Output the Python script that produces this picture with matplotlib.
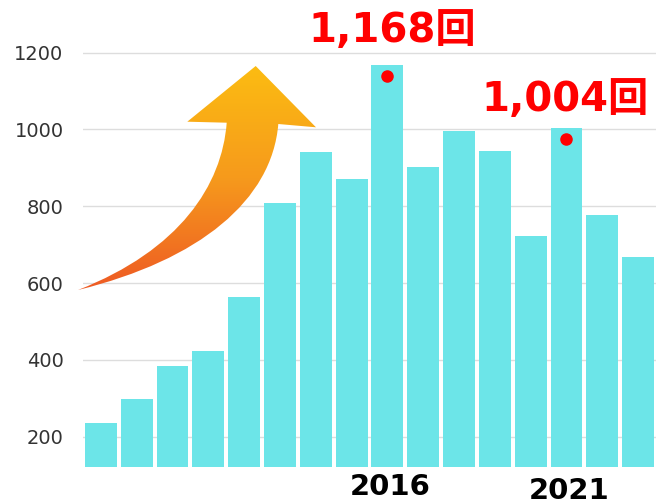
import matplotlib.pyplot as plt
import numpy as np
from matplotlib.path import Path
from matplotlib.patches import PathPatch
from matplotlib.colors import LinearSegmentedColormap

years = list(range(2008, 2024))
counts = [236, 299, 384, 423, 565, 808, 940, 872, 1168, 901, 997, 945, 722, 1004, 777, 668]
shown_years = [2016, 2021]
callouts = {2016: "1,168回", 2021: "1,004回"}

fig = plt.figure(figsize=(6.56, 5.04), dpi=100)
ax = fig.add_axes([83 / 656, 37 / 504, 1 - 83 / 656, 452.8 / 504])

x = np.arange(len(years))
ax.bar(x, counts, width=0.89, color="#6ce5e8", zorder=2)
ax.set_xlim(-0.5, len(years) - 0.5)
ax.set_ylim(121.3, 1300)
ax.set_yticks([200, 400, 600, 800, 1000, 1200])
ax.tick_params(axis="y", length=0, pad=14, labelsize=14, labelcolor="#333333")
ax.set_xticks([])
ax.grid(axis="y", color="#dddddd", linewidth=1, zorder=0)
for s in ax.spines.values():
    s.set_visible(False)

# year labels under the bars (offsets in pixels)
for yr, dy in zip(shown_years, [-20, -24]):
    i = years.index(yr)
    ax.annotate(str(yr), (x[i], 121.3), xytext=(3, dy), textcoords="offset pixels",
                ha="center", va="center", fontsize=21, fontweight="bold", color="black",
                annotation_clip=False)

# red callouts with dots
for (yr, label), (dx, dy) in zip(callouts.items(), [(5, 34), (-1, 28)]):
    i = years.index(yr)
    ax.plot(x[i], counts[i] - 28, "o", color="#ff0000", markersize=8, zorder=3)
    ax.annotate(label, (x[i], counts[i]), xytext=(dx, dy), textcoords="offset pixels",
                ha="center", va="center", fontsize=29, fontweight="bold", color="#ff0000",
                family=["DejaVu Sans", "Noto Sans CJK JP"], annotation_clip=False)

# decorative curved gradient arrow (figure pixel space)
ov = fig.add_axes([0, 0, 1, 1], zorder=5)
ov.set_xlim(0, 656)
ov.set_ylim(504, 0)
ov.axis("off")
ov.patch.set_alpha(0)
verts = [
    (78, 290),
    (200, 260), (272, 200), (278.3, 124),
    (316, 127.3),
    (255.7, 66),
    (187.3, 121.7),
    (226.7, 122.7),
    (222, 185), (180, 250), (78, 290),
    (78, 290),
]
codes = [Path.MOVETO,
         Path.CURVE4, Path.CURVE4, Path.CURVE4,
         Path.LINETO, Path.LINETO, Path.LINETO, Path.LINETO,
         Path.CURVE4, Path.CURVE4, Path.CURVE4,
         Path.CLOSEPOLY]
arrow = PathPatch(Path(verts, codes), facecolor="none", edgecolor="none")
ov.add_patch(arrow)
cmap = LinearSegmentedColormap.from_list("arr", ["#fcbc12", "#f69a1c", "#ee5a24"])
grad = np.linspace(0, 1, 256).reshape(-1, 1)
im = ov.imshow(grad, cmap=cmap, extent=[70, 320, 290, 66], aspect="auto")
im.set_clip_path(arrow)

fig.savefig("out.png", dpi=100)
